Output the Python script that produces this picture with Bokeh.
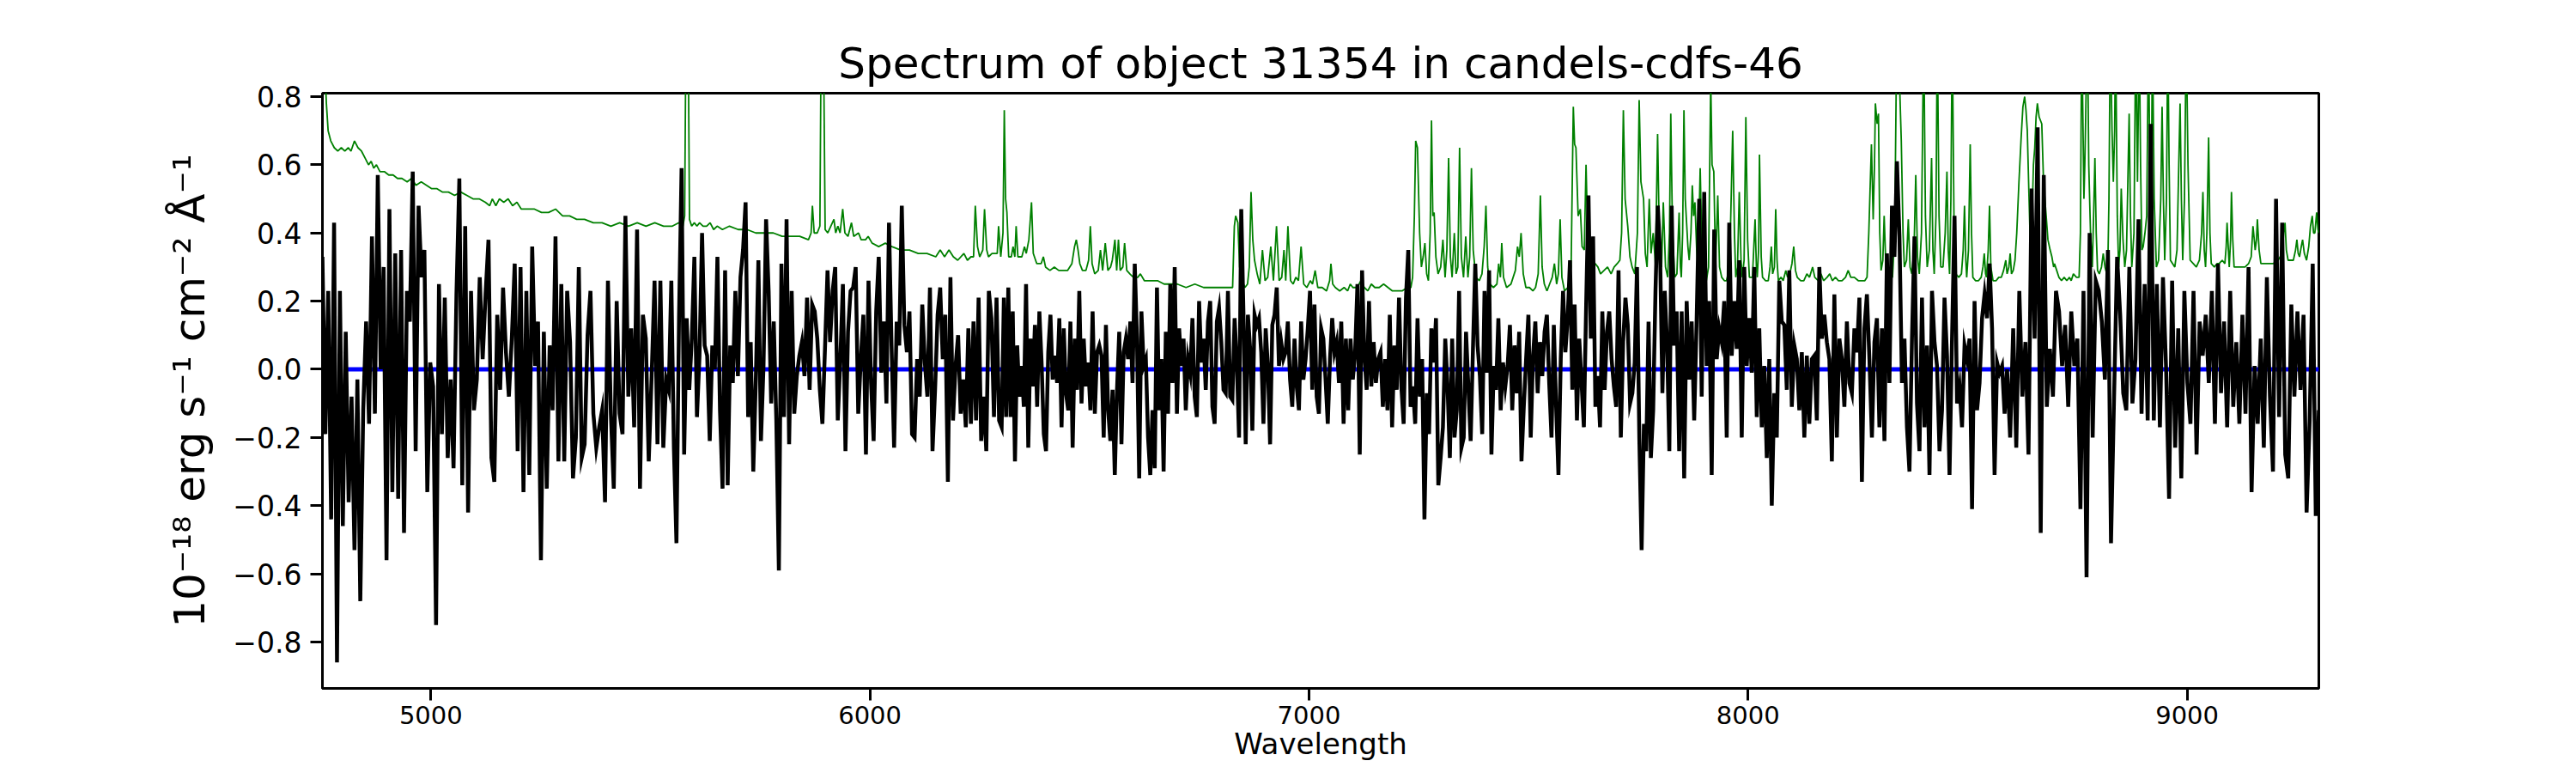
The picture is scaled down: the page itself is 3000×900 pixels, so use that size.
import numpy as np
from bokeh.plotting import figure
from bokeh.models import Range1d, FixedTicker, CustomJSTickFormatter
from bokeh.embed import file_html
from bokeh.resources import INLINE

# ---------------- data ----------------
# observed flux, 10^-18 erg/s/cm2/A, on a regular wavelength grid per stretch
flux_4753_5536 = [0.33, -0.19, 0.23, -0.44, 0.43, -0.86, 0.23, -0.46, 0.11, -0.39, -0.08, -0.53, -0.03, -0.68,
                  -0.12, 0.14, -0.16, 0.39, -0.13, 0.57, 0.0, 0.30, -0.56, 0.47, -0.36, 0.34, -0.38, 0.35, -0.48,
                  0.23, 0.14, 0.58, -0.24, 0.48, 0.27, 0.35, -0.36, 0.02, -0.05, -0.75, 0.25, -0.19, 0.21, -0.26,
                  -0.03, -0.29, 0.22, 0.56, -0.34, 0.42, -0.42, 0.23, -0.12, -0.03, 0.27, 0.03, 0.22, 0.38, -0.26,
                  -0.33, 0.16, -0.06, 0.24, 0.05, -0.08, 0.09, 0.31, -0.24, 0.30, -0.36, 0.23, -0.31, 0.36, 0.01,
                  0.14, -0.56, 0.11, -0.35, 0.07, -0.12, 0.39, -0.27, 0.25, -0.27, 0.23, 0.08, -0.32, -0.20, 0.30,
                  -0.26, -0.22, 0.10, 0.23, -0.13, -0.23, -0.17, -0.12, -0.39, 0.26, -0.13, -0.35, 0.20, -0.13,
                  -0.19, 0.45, -0.08, 0.12, -0.17, 0.41, -0.35, 0.16, 0.09, -0.27, -0.02, 0.26, -0.22, 0.26, -0.23]
flux_5536_6300 = [-0.03, -0.06, 0.26, -0.23, -0.51, 0.15, 0.59, -0.25, 0.15, -0.06, 0.09, 0.33, -0.14, 0.04, 0.40,
                  0.07, 0.04, -0.21, 0.07, 0.0, 0.33, -0.12, -0.35, 0.29, -0.34, 0.07, -0.04, 0.23, -0.02, 0.27,
                  0.35, 0.49, -0.14, 0.08, -0.30, -0.03, 0.32, -0.21, 0.01, 0.44, 0.23, -0.10, 0.14, -0.15, -0.59,
                  0.31, -0.14, 0.44, -0.22, 0.23, -0.13, -0.02, 0.04, 0.08, -0.02, 0.21, -0.06, 0.19, 0.17, 0.09,
                  -0.06, -0.16, 0.06, 0.29, 0.08, 0.23, 0.30, -0.15, 0.03, 0.25, -0.24, 0.11, 0.23, 0.24, 0.30,
                  -0.13, 0.03, 0.16, -0.25, 0.26, -0.04, -0.21, 0.17, 0.33, -0.01, 0.14, -0.10, 0.43, 0.07, -0.23,
                  0.14, 0.07, 0.48, 0.13, 0.05, 0.17, -0.19, -0.20, 0.03, -0.08, 0.19, 0.02, -0.08, 0.24, -0.24,
                  -0.06, 0.16, 0.24, 0.03, 0.16, -0.33, 0.27, -0.15, 0.01, 0.10, -0.13, -0.03, -0.17, 0.12, -0.16,
                  0.14, -0.15, 0.21, -0.21, -0.08, -0.24, 0.23, 0.15, -0.14, 0.21, -0.15]
flux_6300_7063 = [-0.17, 0.21, -0.14, 0.24, -0.14, 0.17, -0.27, 0.07, -0.08, 0.01, -0.11, 0.25, -0.23, 0.09, -0.05,
                  0.13, -0.11, 0.17, 0.02, -0.19, -0.24, 0.05, 0.16, -0.03, 0.04, -0.04, 0.15, -0.17, 0.12, -0.07,
                  -0.12, 0.14, -0.23, 0.09, -0.06, 0.23, -0.10, 0.09, -0.05, 0.02, -0.12, 0.17, -0.13, 0.05, 0.07,
                  0.04, -0.20, 0.13, -0.12, -0.21, -0.06, -0.31, -0.06, 0.11, -0.22, 0.05, 0.09, 0.03, 0.14, -0.04,
                  0.31, 0.09, -0.32, 0.17, 0.01, 0.03, -0.20, -0.31, -0.12, -0.29, 0.24, -0.12, 0.03, -0.30, 0.11,
                  -0.13, 0.25, -0.04, 0.30, -0.13, 0.12, 0.01, 0.09, -0.12, 0.03, -0.01, 0.15, -0.08, -0.14, 0.20,
                  0.02, 0.09, -0.06, 0.14, 0.20, -0.11, -0.16, 0.14, 0.18, 0.08, -0.06, -0.07, 0.23, -0.08, -0.09,
                  0.15, 0.02, -0.20, 0.47, 0.16, -0.22, 0.16, 0.06, -0.18, 0.16, 0.13, 0.15, 0.05, -0.16, 0.12,
                  0.01, -0.22, 0.13, 0.16, 0.24, 0.01, 0.08, 0.03, 0.05, 0.14, -0.03, -0.11, 0.09, -0.05, -0.12,
                  0.14, -0.03, 0.03, 0.12, 0.23, -0.06, 0.19, -0.08, -0.13, 0.12, 0.09, -0.03, -0.16, 0.03, 0.15, 0.05]
flux_7063_7826 = [0.08, -0.04, 0.14, -0.16, 0.09, -0.12, 0.09, -0.03, 0.05, 0.25, -0.25, 0.29, 0.04, -0.06, 0.20,
                  -0.05, 0.08, -0.04, 0.03, 0.05, -0.11, 0.03, -0.12, 0.16, -0.17, 0.07, -0.06, 0.21, -0.05, -0.16,
                  0.21, 0.35, -0.11, -0.05, -0.16, 0.15, -0.08, 0.03, -0.44, -0.07, -0.19, 0.12, 0.02, 0.15, -0.34,
                  -0.26, -0.17, 0.09, -0.05, -0.26, 0.09, -0.20, -0.12, 0.23, -0.23, -0.20, 0.11, -0.05, -0.21, 0.06,
                  0.31, 0.07, -0.02, -0.19, 0.23, -0.01, 0.29, -0.25, 0.01, -0.06, 0.15, -0.12, 0.02, -0.05, 0.01,
                  0.13, -0.12, 0.07, -0.07, 0.11, -0.27, -0.11, 0.03, 0.16, -0.20, 0.04, 0.14, -0.07, 0.08, -0.02,
                  0.11, 0.16, -0.04, -0.20, 0.13, -0.11, -0.31, 0.03, 0.23, 0.05, 0.15, 0.32, -0.06, 0.19, -0.15,
                  0.09, -0.04, -0.17, 0.19, 0.51, 0.09, 0.39, -0.11, -0.02, -0.17, 0.17, -0.06, 0.11, 0.17, 0.03,
                  -0.05, -0.11, 0.29, -0.20, 0.08, 0.21, 0.13, -0.10, -0.07, 0.02, 0.30, -0.20, -0.53, -0.16, -0.24,
                  0.14, -0.26, -0.12, 0.23, 0.48, 0.34, -0.07, 0.23, 0.08, -0.24]
flux_7826_8590 = [0.48, 0.07, 0.17, -0.24, 0.17, -0.32, 0.20, -0.03, 0.14, -0.15, 0.15, 0.50, -0.08, 0.52, 0.01,
                  0.20, -0.31, 0.41, 0.03, 0.12, 0.08, 0.20, -0.20, 0.43, 0.04, 0.20, 0.06, 0.32, -0.20, 0.30, 0.01,
                  0.15, -0.01, 0.30, -0.14, 0.12, -0.17, 0.01, -0.26, 0.03, -0.40, -0.07, -0.20, 0.26, 0.14, 0.13,
                  -0.06, 0.29, -0.11, 0.07, 0.03, -0.12, 0.05, -0.20, 0.04, -0.16, 0.03, 0.04, -0.15, 0.30, 0.09,
                  0.16, 0.08, 0.03, -0.27, 0.22, -0.20, 0.09, 0.03, -0.11, 0.14, -0.04, -0.07, 0.12, 0.05, 0.21,
                  -0.33, 0.12, 0.22, 0.03, -0.20, 0.08, 0.15, -0.17, 0.12, -0.21, 0.34, -0.04, 0.48, 0.33, 0.61,
                  0.39, -0.04, 0.09, -0.17, -0.30, 0.09, 0.39, -0.10, -0.24, 0.21, -0.17, 0.07, -0.31, 0.23, 0.08,
                  0.01, -0.24, -0.12, 0.21, 0.04, -0.31, 0.09, 0.45, -0.10, -0.05, -0.17, 0.07, 0.03, 0.09, -0.41,
                  0.20, -0.12, -0.04, 0.15, 0.22, 0.15, 0.31, 0.12, -0.31, 0.02, -0.01, 0.01, -0.13]
flux_8590_9300 = [0.00, -0.20, 0.12, -0.23, 0.23, -0.08, 0.08, -0.25, 0.53, 0.09, 0.71, -0.48, 0.57, -0.11, 0.06,
                  -0.08, 0.23, 0.17, 0.01, 0.13, -0.11, 0.17, 0.01, 0.09, -0.41, 0.23, -0.61, 0.40, -0.20, 0.26,
                  0.23, 0.14, -0.03, 0.35, -0.51, -0.08, 0.33, 0.16, -0.07, -0.12, 0.30, -0.10, 0.03, 0.44, -0.13,
                  0.25, -0.15, 0.72, -0.15, 0.25, -0.17, 0.27, 0.01, -0.38, 0.26, -0.23, 0.12, -0.32, 0.23, -0.04,
                  -0.16, 0.23, -0.25, 0.14, 0.04, 0.16, -0.04, 0.23, -0.16, 0.31, -0.07, 0.14, -0.17, 0.23, -0.11,
                  0.08, -0.16, 0.16, -0.13, 0.30, -0.36, 0.01, -0.16, 0.09, -0.23, 0.27, -0.08, -0.30, 0.50, -0.14,
                  0.43, -0.25, -0.32, 0.19, -0.08, 0.17, -0.06, 0.16, -0.42, -0.15, 0.31, -0.43, -0.12]
flux_stretches = [(4753, 5536, flux_4753_5536), (5536, 6300, flux_5536_6300), (6300, 7063, flux_6300_7063),
                  (7063, 7826, flux_7063_7826), (7826, 8590, flux_7826_8590), (8590, 9300, flux_8590_9300)]

# model spectrum (wavelength, flux) pairs
model_4753_5540 = [(4753, 1.00), (4758, 0.90), (4762, 0.78), (4766, 0.70), (4772, 0.67), (4780, 0.65), (4788, 0.64),
                   (4796, 0.65), (4804, 0.64), (4812, 0.65), (4818, 0.64), (4826, 0.67), (4834, 0.65), (4842, 0.64),
                   (4850, 0.62), (4858, 0.60), (4864, 0.61), (4870, 0.59), (4876, 0.60), (4884, 0.58), (4894, 0.58),
                   (4904, 0.57), (4914, 0.57), (4924, 0.56), (4934, 0.56), (4946, 0.55), (4956, 0.56), (4966, 0.54),
                   (4978, 0.55), (4990, 0.54), (5002, 0.53), (5014, 0.53), (5026, 0.52), (5040, 0.52), (5054, 0.51),
                   (5068, 0.52), (5082, 0.51), (5096, 0.50), (5110, 0.50), (5124, 0.49), (5134, 0.48), (5140, 0.50),
                   (5148, 0.48), (5156, 0.50), (5166, 0.49), (5176, 0.50), (5186, 0.48), (5196, 0.49), (5206, 0.47),
                   (5220, 0.47), (5236, 0.47), (5252, 0.46), (5268, 0.46), (5284, 0.47), (5300, 0.45), (5316, 0.45),
                   (5332, 0.44), (5350, 0.44), (5370, 0.43), (5390, 0.43), (5410, 0.42), (5430, 0.43), (5450, 0.42),
                   (5470, 0.43), (5490, 0.42), (5510, 0.43), (5530, 0.42)]
model_5540_6290 = [(5550, 0.42), (5565, 0.43), (5574, 0.42), (5578, 0.45), (5581, 1.0), (5586, 1.0), (5589, 0.44),
                   (5594, 0.42), (5600, 0.43), (5606, 0.42), (5612, 0.43), (5620, 0.42), (5628, 0.42), (5636, 0.43),
                   (5644, 0.41), (5652, 0.42), (5664, 0.41), (5680, 0.42), (5700, 0.41), (5720, 0.41), (5740, 0.40),
                   (5760, 0.40), (5780, 0.40), (5800, 0.39), (5820, 0.39), (5840, 0.39), (5860, 0.38), (5866, 0.40),
                   (5869, 0.48), (5873, 0.40), (5880, 0.40), (5886, 0.42), (5889, 1.0), (5894, 1.0), (5898, 0.41),
                   (5904, 0.40), (5918, 0.44), (5922, 0.40), (5927, 0.42), (5932, 0.40), (5938, 0.47), (5943, 0.40),
                   (5950, 0.39), (5958, 0.43), (5963, 0.39), (5974, 0.40), (5980, 0.38), (5990, 0.38), (5996, 0.39),
                   (6005, 0.37), (6020, 0.36), (6035, 0.37), (6050, 0.36), (6070, 0.35), (6090, 0.35), (6110, 0.34),
                   (6130, 0.34), (6150, 0.33), (6160, 0.35), (6170, 0.33), (6180, 0.35), (6190, 0.33), (6200, 0.32),
                   (6214, 0.34), (6222, 0.32), (6230, 0.33), (6236, 0.33), (6240, 0.48), (6245, 0.36), (6250, 0.33),
                   (6257, 0.35), (6261, 0.47), (6266, 0.35), (6270, 0.33), (6278, 0.34), (6285, 0.34)]
model_6290_7056 = [(6290, 0.34), (6293, 0.42), (6298, 0.33), (6303, 0.40), (6306, 0.76), (6309, 0.50), (6312, 0.46),
                   (6316, 0.33), (6322, 0.33), (6326, 0.36), (6330, 0.33), (6333, 0.42), (6337, 0.33), (6346, 0.33),
                   (6352, 0.36), (6356, 0.34), (6362, 0.38), (6368, 0.49), (6372, 0.34), (6380, 0.31), (6390, 0.31),
                   (6395, 0.33), (6400, 0.30), (6410, 0.29), (6420, 0.30), (6430, 0.29), (6440, 0.29), (6450, 0.29),
                   (6460, 0.31), (6466, 0.36), (6470, 0.38), (6474, 0.35), (6478, 0.31), (6484, 0.29), (6492, 0.29),
                   (6498, 0.32), (6502, 0.42), (6506, 0.31), (6512, 0.28), (6520, 0.29), (6525, 0.35), (6530, 0.29),
                   (6536, 0.37), (6542, 0.29), (6548, 0.30), (6552, 0.32), (6558, 0.38), (6562, 0.29), (6566, 0.38),
                   (6570, 0.29), (6576, 0.30), (6580, 0.37), (6585, 0.29), (6592, 0.28), (6600, 0.27), (6610, 0.27),
                   (6616, 0.28), (6625, 0.26), (6640, 0.26), (6655, 0.26), (6670, 0.25), (6685, 0.25), (6700, 0.25),
                   (6720, 0.24), (6740, 0.25), (6760, 0.24), (6780, 0.24), (6800, 0.24), (6815, 0.24), (6826, 0.24),
                   (6830, 0.42), (6833, 0.45), (6838, 0.43), (6842, 0.30), (6848, 0.26), (6854, 0.24), (6860, 0.25),
                   (6864, 0.30), (6868, 0.52), (6872, 0.38), (6876, 0.32), (6882, 0.28), (6888, 0.25), (6894, 0.35),
                   (6900, 0.26), (6906, 0.27), (6913, 0.36), (6919, 0.26), (6926, 0.42), (6932, 0.26), (6938, 0.27),
                   (6943, 0.35), (6947, 0.26), (6952, 0.42), (6958, 0.26), (6964, 0.25), (6970, 0.27), (6976, 0.26),
                   (6982, 0.36), (6988, 0.25), (6995, 0.24), (7003, 0.26), (7008, 0.25), (7014, 0.29), (7020, 0.24),
                   (7030, 0.24), (7040, 0.23), (7047, 0.26), (7050, 0.31), (7054, 0.25)]
model_7056_7810 = [(7060, 0.24), (7070, 0.23), (7080, 0.24), (7088, 0.23), (7094, 0.25), (7100, 0.24), (7110, 0.24),
                   (7118, 0.26), (7126, 0.24), (7134, 0.23), (7142, 0.25), (7150, 0.24), (7160, 0.24), (7170, 0.25),
                   (7180, 0.24), (7190, 0.23), (7200, 0.23), (7212, 0.23), (7224, 0.24), (7232, 0.24), (7236, 0.27),
                   (7240, 0.45), (7243, 0.67), (7247, 0.65), (7252, 0.40), (7256, 0.30), (7260, 0.33), (7264, 0.37),
                   (7268, 0.28), (7272, 0.26), (7276, 0.40), (7279, 0.73), (7282, 0.45), (7285, 0.46), (7289, 0.33),
                   (7294, 0.28), (7300, 0.30), (7305, 0.38), (7310, 0.27), (7314, 0.35), (7318, 0.62), (7322, 0.33),
                   (7326, 0.27), (7331, 0.40), (7335, 0.28), (7339, 0.30), (7343, 0.65), (7347, 0.33), (7352, 0.27),
                   (7357, 0.39), (7362, 0.27), (7366, 0.33), (7370, 0.59), (7374, 0.35), (7380, 0.27), (7388, 0.26),
                   (7394, 0.28), (7399, 0.36), (7403, 0.48), (7407, 0.30), (7412, 0.25), (7420, 0.24), (7428, 0.25),
                   (7432, 0.31), (7436, 0.27), (7439, 0.37), (7443, 0.27), (7450, 0.24), (7460, 0.25), (7470, 0.29),
                   (7475, 0.36), (7479, 0.33), (7483, 0.40), (7488, 0.28), (7494, 0.24), (7502, 0.24), (7510, 0.23),
                   (7516, 0.24), (7522, 0.28), (7527, 0.51), (7531, 0.30), (7536, 0.25), (7542, 0.23), (7548, 0.25),
                   (7554, 0.27), (7559, 0.31), (7564, 0.25), (7568, 0.28), (7572, 0.44), (7576, 0.27), (7582, 0.23),
                   (7590, 0.24), (7597, 0.30), (7602, 0.77), (7605, 0.66), (7608, 0.65), (7613, 0.45), (7618, 0.47),
                   (7622, 0.36), (7627, 0.35), (7631, 0.60), (7635, 0.38), (7640, 0.33), (7646, 0.32), (7652, 0.31),
                   (7658, 0.30), (7664, 0.28), (7672, 0.29), (7680, 0.30), (7688, 0.28), (7695, 0.30), (7702, 0.31),
                   (7708, 0.32), (7712, 0.40), (7716, 0.76), (7720, 0.50), (7726, 0.42), (7731, 0.33), (7736, 0.30),
                   (7742, 0.28), (7748, 0.40), (7752, 0.79), (7756, 0.55), (7762, 0.50), (7766, 0.34), (7770, 0.30),
                   (7775, 0.50), (7779, 0.34), (7784, 0.40), (7789, 0.31), (7794, 0.69), (7798, 0.38), (7803, 0.30),
                   (7807, 0.49)]
model_7810_8590 = [(7812, 0.30), (7817, 0.27), (7821, 0.40), (7824, 0.75), (7828, 0.40), (7833, 0.27), (7838, 0.28),
                   (7843, 0.46), (7846, 0.30), (7848, 0.27), (7851, 0.40), (7854, 0.76), (7857, 0.50), (7860, 0.43),
                   (7863, 0.36), (7866, 0.32), (7870, 0.40), (7873, 0.54), (7876, 0.45), (7879, 0.49), (7883, 0.35),
                   (7886, 0.30), (7891, 0.59), (7895, 0.35), (7899, 0.27), (7905, 0.26), (7910, 0.30), (7915, 0.85),
                   (7918, 0.60), (7922, 0.58), (7926, 0.30), (7931, 0.51), (7935, 0.30), (7940, 0.27), (7946, 0.26),
                   (7951, 0.26), (7958, 0.30), (7965, 0.70), (7969, 0.40), (7972, 0.27), (7976, 0.30), (7980, 0.52),
                   (7984, 0.32), (7987, 0.27), (7991, 0.32), (7995, 0.74), (7999, 0.38), (8003, 0.27), (8010, 0.27),
                   (8016, 0.44), (8019, 0.30), (8021, 0.27), (8024, 0.35), (8026, 0.63), (8030, 0.33), (8033, 0.27),
                   (8040, 0.26), (8046, 0.26), (8050, 0.30), (8053, 0.36), (8056, 0.28), (8060, 0.30), (8063, 0.47),
                   (8066, 0.32), (8069, 0.26), (8075, 0.27), (8080, 0.26), (8086, 0.29), (8090, 0.27), (8095, 0.28),
                   (8100, 0.31), (8104, 0.36), (8108, 0.29), (8112, 0.27), (8120, 0.26), (8127, 0.26), (8134, 0.28),
                   (8140, 0.27), (8147, 0.30), (8152, 0.27), (8160, 0.26), (8166, 0.28), (8172, 0.26), (8180, 0.27),
                   (8186, 0.28), (8192, 0.26), (8199, 0.27), (8206, 0.26), (8214, 0.26), (8222, 0.27), (8228, 0.29),
                   (8234, 0.27), (8242, 0.27), (8251, 0.26), (8260, 0.26), (8266, 0.26), (8271, 0.27), (8275, 0.40),
                   (8281, 0.66), (8285, 0.44), (8288, 0.60), (8290, 0.78), (8294, 0.72), (8297, 0.75), (8300, 0.40),
                   (8303, 0.29), (8307, 0.32), (8310, 0.45), (8314, 0.30), (8320, 0.27), (8326, 0.27), (8329, 0.27),
                   (8334, 0.40), (8338, 0.90), (8343, 1.00), (8346, 0.80), (8349, 0.67), (8353, 0.40), (8356, 0.30),
                   (8361, 0.32), (8365, 0.44), (8369, 0.30), (8373, 0.28), (8378, 0.35), (8382, 0.57), (8386, 0.33),
                   (8390, 0.28), (8395, 0.40), (8400, 1.00), (8404, 0.45), (8408, 0.30), (8413, 0.35), (8418, 0.62),
                   (8421, 0.35), (8424, 0.28), (8428, 0.45), (8431, 1.00), (8435, 0.45), (8439, 0.30), (8444, 0.30),
                   (8449, 0.40), (8453, 0.58), (8456, 0.35), (8459, 0.28), (8462, 0.50), (8465, 1.00), (8469, 0.45),
                   (8473, 0.28), (8480, 0.27), (8486, 0.28), (8490, 0.35), (8493, 0.48), (8496, 0.32), (8498, 0.27),
                   (8502, 0.35), (8506, 0.66), (8509, 0.40), (8512, 0.27), (8518, 0.26), (8525, 0.26), (8531, 0.27),
                   (8535, 0.30), (8538, 0.34), (8541, 0.28), (8543, 0.27), (8547, 0.35), (8550, 0.48), (8553, 0.30),
                   (8558, 0.26), (8565, 0.26), (8571, 0.27), (8577, 0.27), (8582, 0.29), (8587, 0.32)]
model_8590_9300 = [(8590, 0.28), (8594, 0.30), (8597, 0.34), (8600, 0.28), (8604, 0.29), (8608, 0.32), (8612, 0.40),
                   (8617, 0.55), (8622, 0.68), (8626, 0.77), (8630, 0.80), (8633, 0.76), (8636, 0.70), (8640, 0.50),
                   (8643, 0.36), (8646, 0.40), (8650, 0.60), (8653, 0.65), (8656, 0.74), (8659, 0.78), (8663, 0.74),
                   (8666, 0.73), (8669, 0.72), (8673, 0.55), (8676, 0.50), (8679, 0.45), (8683, 0.38), (8688, 0.35),
                   (8692, 0.33), (8696, 0.30), (8698, 0.31), (8703, 0.29), (8708, 0.27), (8714, 0.26), (8720, 0.27),
                   (8726, 0.26), (8732, 0.27), (8736, 0.26), (8741, 0.28), (8748, 0.27), (8754, 0.27), (8757, 0.40),
                   (8760, 1.00), (8763, 0.70), (8765, 0.50), (8767, 0.60), (8769, 0.74), (8771, 0.90), (8773, 1.00),
                   (8776, 0.60), (8780, 0.40), (8784, 0.30), (8787, 0.45), (8790, 0.62), (8793, 0.40), (8796, 0.29),
                   (8800, 0.28), (8805, 0.30), (8809, 0.34), (8813, 0.30), (8819, 0.27), (8822, 0.50), (8825, 1.00),
                   (8829, 0.70), (8832, 0.55), (8835, 0.70), (8837, 1.00), (8841, 0.45), (8844, 0.30), (8847, 0.35),
                   (8850, 0.53), (8854, 0.38), (8858, 0.30), (8862, 0.35), (8865, 0.55), (8868, 0.75), (8871, 0.45),
                   (8874, 0.30), (8879, 0.40), (8883, 1.00), (8887, 0.55), (8891, 1.00), (8894, 0.60), (8897, 0.35),
                   (8900, 0.36), (8904, 0.40), (8908, 0.45), (8912, 1.00), (8915, 0.60), (8917, 0.40), (8919, 0.60),
                   (8921, 1.00), (8925, 0.50), (8930, 0.30), (8935, 0.32), (8940, 0.50), (8943, 0.77), (8946, 0.50),
                   (8949, 0.32), (8953, 0.50), (8956, 1.00), (8959, 0.60), (8962, 0.32), (8967, 0.31), (8972, 0.30),
                   (8977, 0.35), (8981, 0.60), (8984, 0.78), (8987, 0.50), (8990, 0.32), (8994, 0.50), (8998, 1.00),
                   (9002, 0.60), (9007, 0.32), (9014, 0.31), (9021, 0.30), (9028, 0.32), (9033, 0.40), (9036, 0.52),
                   (9039, 0.35), (9042, 0.30), (9045, 0.40), (9049, 0.68), (9052, 0.40), (9055, 0.31), (9062, 0.30),
                   (9068, 0.31), (9073, 0.31), (9080, 0.32), (9086, 0.31), (9089, 0.36), (9091, 0.43), (9094, 0.35),
                   (9096, 0.30), (9099, 0.38), (9101, 0.52), (9104, 0.38), (9107, 0.30), (9115, 0.30), (9124, 0.30),
                   (9132, 0.30), (9140, 0.31), (9146, 0.33), (9150, 0.42), (9153, 0.38), (9155, 0.35), (9158, 0.38),
                   (9160, 0.44), (9164, 0.35), (9168, 0.31), (9176, 0.31), (9185, 0.31), (9192, 0.31), (9197, 0.31),
                   (9202, 0.32), (9207, 0.32), (9212, 0.33), (9217, 0.35), (9220, 0.40), (9223, 0.43), (9226, 0.35),
                   (9230, 0.32), (9236, 0.32), (9242, 0.32), (9247, 0.35), (9250, 0.38), (9253, 0.34), (9256, 0.33),
                   (9260, 0.36), (9263, 0.38), (9267, 0.34), (9272, 0.32), (9277, 0.36), (9281, 0.42), (9285, 0.45),
                   (9288, 0.40), (9291, 0.40), (9295, 0.46), (9298, 0.41), (9300, 0.40)]
model_parts = [model_4753_5540, model_5540_6290, model_6290_7056, model_7056_7810, model_7810_8590, model_8590_9300]

# zero reference line
zero_wave = [4810, 9300]
zero_flux = [0.0, 0.0]

x_ticks = [5000, 6000, 7000, 8000, 9000]
y_ticks = [-0.8, -0.6, -0.4, -0.2, 0.0, 0.2, 0.4, 0.6, 0.8]

title_text = "Spectrum of object 31354 in candels-cdfs-46"
x_label = "Wavelength"
y_label = "10\u207b\u00b9\u2078 erg s\u207b\u00b9 cm\u207b\u00b2 \u00c5\u207b\u00b9"

# ---------------- assemble ----------------
obs_wave, obs_flux = [], []
for i, (w0, w1, vals) in enumerate(flux_stretches):
    last = i == len(flux_stretches) - 1
    obs_wave.extend(np.linspace(w0, w1, len(vals), endpoint=last).tolist())
    obs_flux.extend(vals)

mod_wave = [w for part in model_parts for (w, f) in part]
mod_flux = [f for part in model_parts for (w, f) in part]

FONT = "DejaVu Sans"

p = figure(frame_width=2325, frame_height=693,
           x_range=Range1d(4753, 9300), y_range=Range1d(-0.936, 0.81),
           output_backend="svg", toolbar_location=None, title=title_text,
           min_border_left=375, min_border_top=108, min_border_right=280, min_border_bottom=91)

p.background_fill_color = "white"
p.border_fill_color = "white"
p.outline_line_color = "black"
p.outline_line_width = 3
p.xgrid.visible = False
p.ygrid.visible = False

p.title.text_font = FONT
p.title.text_font_size = "50px"
p.title.text_font_style = "normal"
p.title.text_color = "black"
p.title.align = "center"
p.title.standoff = 12

for ax in (p.xaxis[0], p.yaxis[0]):
    ax.axis_line_width = 3
    ax.axis_line_color = "black"
    ax.major_tick_line_width = 3
    ax.major_tick_line_color = "black"
    ax.major_tick_out = 14
    ax.major_tick_in = 0
    ax.minor_tick_out = 0
    ax.minor_tick_in = 0
    ax.major_label_text_font = FONT
    ax.major_label_text_color = "black"
    ax.axis_label_text_font = FONT
    ax.axis_label_text_font_style = "normal"
    ax.axis_label_text_color = "black"

p.xaxis.ticker = FixedTicker(ticks=x_ticks)
p.xaxis.major_label_text_font_size = "29px"
p.xaxis.major_label_standoff = 6
p.xaxis.axis_label = x_label
p.xaxis.axis_label_text_font_size = "34px"
p.xaxis.axis_label_standoff = 0

p.yaxis.ticker = FixedTicker(ticks=y_ticks)
p.yaxis.formatter = CustomJSTickFormatter(code="return tick.toFixed(1).replace('-', '\\u2212');")
p.yaxis.major_label_text_font_size = "33px"
p.yaxis.major_label_standoff = 10
p.yaxis.axis_label = y_label
p.yaxis.axis_label_text_font_size = "50px"
p.yaxis.axis_label_standoff = 18

p.line(mod_wave, mod_flux, line_color="green", line_width=1.8)
p.line(zero_wave, zero_flux, line_color="blue", line_width=5)
p.line(obs_wave, obs_flux, line_color="black", line_width=4.5, line_join="miter")

open("out.html", "w").write(file_html(p, INLINE))
